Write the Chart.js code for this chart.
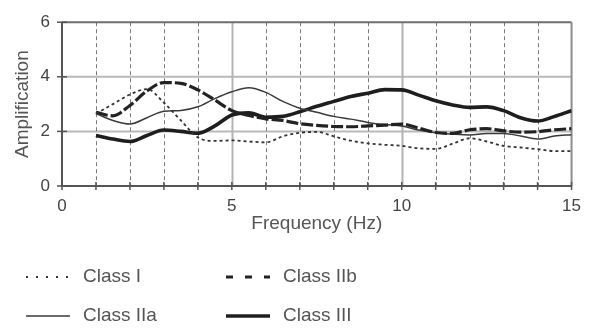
<!DOCTYPE html>
<html>
<head>
<meta charset="utf-8">
<script src="https://cdn.jsdelivr.net/npm/chart.js@4"></script>
<style>
  html, body { margin: 0; padding: 0; background: #fff; }
</style>
</head>
<body>
<canvas id="ampChart" width="591" height="329"></canvas>
<script>
// Frequencies (Hz) at which the curves were read
const freqs = [1, 1.5, 2, 2.5, 3, 3.5, 4, 4.5, 5, 5.5, 6, 6.5, 7, 7.5, 8, 8.5, 9, 9.5, 10, 10.5, 11, 11.5, 12, 12.5, 13, 13.5, 14, 14.5, 15];

// Amplification per site class
const classI   = [2.65, 3.0, 3.35, 3.55, 3.05, 2.4, 1.78, 1.65, 1.67, 1.63, 1.6, 1.82, 1.95, 1.98, 1.82, 1.66, 1.56, 1.51, 1.47, 1.38, 1.36, 1.55, 1.75, 1.63, 1.47, 1.41, 1.35, 1.28, 1.28];
const classIIa = [2.65, 2.4, 2.27, 2.5, 2.74, 2.77, 2.9, 3.2, 3.45, 3.6, 3.43, 3.1, 2.85, 2.7, 2.55, 2.45, 2.33, 2.25, 2.2, 2.05, 1.95, 1.9, 1.87, 1.92, 1.92, 1.83, 1.72, 1.83, 1.88];
const classIIb = [2.7, 2.57, 2.95, 3.48, 3.79, 3.76, 3.52, 3.15, 2.76, 2.58, 2.46, 2.4, 2.28, 2.22, 2.18, 2.17, 2.2, 2.23, 2.27, 2.12, 1.96, 1.93, 2.06, 2.1, 2.02, 1.97, 1.99, 2.06, 2.1];
const classIII = [1.85, 1.72, 1.63, 1.85, 2.05, 2.0, 1.93, 2.2, 2.6, 2.68, 2.52, 2.55, 2.72, 2.92, 3.1, 3.28, 3.4, 3.53, 3.52, 3.33, 3.12, 2.97, 2.88, 2.9, 2.76, 2.5, 2.38, 2.55, 2.76];

// Axis ticks
const xLabels = [0, 5, 10, 15];
const yLabels = [0, 2, 4, 6];

const seriesNames = ['Class I', 'Class IIb', 'Class IIa', 'Class III'];

function toPoints(vals) {
  return freqs.map((f, i) => ({ x: f, y: vals[i] }));
}

Chart.defaults.font.family = '"Liberation Sans", Arial, sans-serif';
Chart.defaults.color = '#4a4a4a';

// Grid, frame and crossing tick marks, drawn from the scales
const frameGrid = {
  id: 'frameGrid',
  beforeDatasetsDraw(chart) {
    const { ctx, chartArea: a, scales: { x, y } } = chart;
    ctx.save();
    // horizontal grid lines
    [2, 4].forEach(v => {
      const py = y.getPixelForValue(v);
      ctx.strokeStyle = '#b9b9b9';
      ctx.lineWidth = 2;
      ctx.setLineDash([]);
      ctx.beginPath(); ctx.moveTo(a.left, py); ctx.lineTo(a.right, py); ctx.stroke();
    });
    // vertical grid lines
    for (let v = 1; v < 15; v++) {
      const px = Math.round(x.getPixelForValue(v)) + 0.5;
      ctx.beginPath();
      if (v % 5 === 0) {
        ctx.strokeStyle = '#b3b3b3';
        ctx.lineWidth = 2;
        ctx.setLineDash([]);
      } else {
        ctx.strokeStyle = '#7a7a7a';
        ctx.lineWidth = 1;
        ctx.setLineDash([4, 3]);
      }
      ctx.moveTo(px, a.top); ctx.lineTo(px, a.bottom); ctx.stroke();
    }
    ctx.setLineDash([]);
    // top and right border
    ctx.strokeStyle = '#6e6e6e';
    ctx.lineWidth = 2;
    ctx.beginPath(); ctx.moveTo(a.left, a.top); ctx.lineTo(a.right, a.top); ctx.stroke();
    ctx.strokeStyle = '#8c8c8c';
    ctx.beginPath(); ctx.moveTo(a.right, a.top); ctx.lineTo(a.right, a.bottom); ctx.stroke();
    // axes
    ctx.strokeStyle = '#555';
    ctx.lineWidth = 2;
    ctx.beginPath(); ctx.moveTo(a.left, a.top); ctx.lineTo(a.left, a.bottom); ctx.lineTo(a.right, a.bottom); ctx.stroke();
    // tick marks crossing axes
    ctx.lineWidth = 1.5;
    for (let v = 0; v <= 15; v++) {
      const px = x.getPixelForValue(v);
      ctx.beginPath(); ctx.moveTo(px, a.bottom - 4); ctx.lineTo(px, a.bottom + 4); ctx.stroke();
    }
    yLabels.forEach(v => {
      const py = y.getPixelForValue(v);
      ctx.beginPath(); ctx.moveTo(a.left - 5, py); ctx.lineTo(a.left + 5, py); ctx.stroke();
    });
    ctx.restore();
  }
};

// Two-column legend under the chart
const legendRows = {
  id: 'legendRows',
  afterDraw(chart) {
    const { ctx } = chart;
    const cols = [26, 226];
    const rows = [277, 316];
    ctx.save();
    chart.data.datasets.forEach((ds, i) => {
      const x0 = cols[i % 2];
      const y0 = rows[Math.floor(i / 2)];
      ctx.strokeStyle = ds.borderColor;
      ctx.lineWidth = ds.borderWidth;
      ctx.setLineDash(ds.legendDash || []);
      ctx.beginPath(); ctx.moveTo(x0, y0); ctx.lineTo(x0 + 44, y0); ctx.stroke();
      ctx.setLineDash([]);
      ctx.fillStyle = '#555';
      ctx.font = '19px "Liberation Sans", Arial, sans-serif';
      ctx.textBaseline = 'middle';
      ctx.fillText(ds.label, x0 + 57, y0);
    });
    ctx.restore();
  }
};

new Chart(document.getElementById('ampChart'), {
  type: 'line',
  data: {
    datasets: [
      { label: seriesNames[0], data: toPoints(classI), borderColor: '#333', borderWidth: 1.8, borderDash: [3, 3], legendDash: [2, 8] },
      { label: seriesNames[1], data: toPoints(classIIb), borderColor: '#222', borderWidth: 3.2, borderDash: [12, 3], legendDash: [7, 12] },
      { label: seriesNames[2], data: toPoints(classIIa), borderColor: '#3a3a3a', borderWidth: 1.5 },
      { label: seriesNames[3], data: toPoints(classIII), borderColor: '#1e1e1e', borderWidth: 3.6 }
    ]
  },
  options: {
    responsive: false,
    animation: false,
    layout: { padding: { top: 17, right: 15, bottom: 94, left: 0 } },
    plugins: { legend: { display: false }, tooltip: { enabled: false } },
    elements: { point: { radius: 0 }, line: { cubicInterpolationMode: 'monotone', fill: false } },
    scales: {
      x: {
        type: 'linear',
        min: 0,
        max: 15,
        afterBuildTicks: (scale) => { scale.ticks = xLabels.map(v => ({ value: v })); },
        afterFit: (scale) => { scale.height = 49; },
        grid: { display: false, drawTicks: false },
        border: { display: false },
        ticks: { autoSkip: false, maxRotation: 0, padding: 10, font: { size: 17 }, color: '#444' },
        title: { display: true, text: 'Frequency (Hz)', font: { size: 19 }, color: '#555', padding: { top: 0, bottom: 0 } }
      },
      y: {
        min: 0,
        max: 6,
        afterBuildTicks: (scale) => { scale.ticks = yLabels.map(v => ({ value: v })); },
        afterFit: (scale) => { scale.width = 62; },
        grid: { display: false, drawTicks: false },
        border: { display: false },
        ticks: { padding: 12, font: { size: 17 }, color: '#444' },
        title: { display: true, text: 'Amplification', font: { size: 19 }, color: '#555', padding: { top: 11, bottom: 0 } }
      }
    }
  },
  plugins: [frameGrid, legendRows]
});
</script>
</body>
</html>
